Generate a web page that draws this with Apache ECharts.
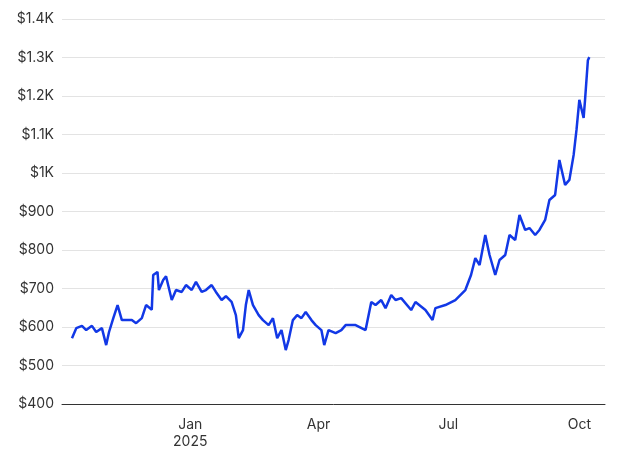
<!DOCTYPE html>
<html>
<head>
<meta charset="utf-8">
<script src="https://cdn.jsdelivr.net/npm/echarts@6/dist/echarts.min.js"></script>
</head>
<body style="margin:0">
<div id="main" style="width:640px;height:471px;"></div>
<script type="text/javascript">
    var dates = ['2024-10-10','2024-10-13','2024-10-17','2024-10-20','2024-10-24','2024-10-27','2024-10-31','2024-11-03','2024-11-05','2024-11-08',
        '2024-11-11','2024-11-14','2024-11-21','2024-11-24','2024-11-28','2024-12-01','2024-12-05','2024-12-06','2024-12-09','2024-12-10',
        '2024-12-13','2024-12-15','2024-12-19','2024-12-22','2024-12-26','2024-12-29','2025-01-02','2025-01-05','2025-01-09','2025-01-12',
        '2025-01-16','2025-01-19','2025-01-23','2025-01-26','2025-01-30','2025-02-02','2025-02-04','2025-02-07','2025-02-09','2025-02-11',
        '2025-02-14','2025-02-18','2025-02-21','2025-02-25','2025-02-28','2025-03-03','2025-03-06','2025-03-09','2025-03-11','2025-03-14',
        '2025-03-17','2025-03-20','2025-03-23','2025-03-27','2025-03-30','2025-04-03','2025-04-05','2025-04-08','2025-04-13','2025-04-17',
        '2025-04-20','2025-04-27','2025-05-04','2025-05-08','2025-05-11','2025-05-15','2025-05-18','2025-05-22','2025-05-25','2025-05-29',
        '2025-06-05','2025-06-08','2025-06-15','2025-06-20','2025-06-22','2025-06-29','2025-07-06','2025-07-13','2025-07-17','2025-07-20',
        '2025-07-23','2025-07-27','2025-07-30','2025-08-03','2025-08-06','2025-08-10','2025-08-13','2025-08-17','2025-08-20','2025-08-24',
        '2025-08-27','2025-08-31','2025-09-03','2025-09-07','2025-09-10','2025-09-14','2025-09-17','2025-09-21','2025-09-24','2025-09-27',
        '2025-09-29','2025-10-01','2025-10-04','2025-10-05','2025-10-07','2025-10-08'];
    var prices = [571,597,603,592,603,587,597,553,587,623,
        657,618,618,610,623,657,645,735,743,696,
        722,732,670,696,691,709,696,717,691,696,
        709,691,670,680,665,631,571,592,657,696,
        657,631,618,605,623,571,592,540,566,618,
        631,623,639,618,605,592,553,592,584,592,
        605,605,592,665,657,670,649,683,670,675,
        644,665,644,618,649,657,670,696,735,779,
        761,839,787,735,774,787,839,826,891,852,
        857,839,852,878,930,943,1034,969,982,1047,
        1112,1190,1143,1190,1293,1301];
    var tickDates = ['2025-01-01', '2025-04-01', '2025-07-01', '2025-10-01'];
    var months = ['Jan', 'Feb', 'Mar', 'Apr', 'May', 'Jun', 'Jul', 'Aug', 'Sep', 'Oct', 'Nov', 'Dec'];

    function ts(d) { return Date.UTC(+d.slice(0, 4), +d.slice(5, 7) - 1, +d.slice(8, 10)); }
    var data = dates.map(function (d, i) { return [ts(d), prices[i]]; });
    var ticks = tickDates.map(ts);

    var myChart = echarts.init(document.getElementById('main'));
    myChart.setOption({
        textStyle: {fontFamily: 'Inter'},
        grid: {left: 62, right: 35, top: 19, bottom: 67},
        xAxis: {
            type: 'value',
            min: ts('2024-10-03'),
            max: ts('2025-10-19'),
            axisLine: {lineStyle: {color: '#333'}},
            axisTick: {show: false},
            splitLine: {show: false},
            axisLabel: {
                customValues: ticks,
                color: '#333',
                fontSize: 14,
                margin: 12,
                lineHeight: 17,
                formatter: function (v) {
                    var d = new Date(v);
                    var m = months[d.getUTCMonth()];
                    return d.getUTCMonth() === 0 ? m + '\n' + d.getUTCFullYear() : m;
                }
            }
        },
        yAxis: {
            type: 'value',
            min: 400,
            max: 1400,
            interval: 100,
            axisLine: {show: false},
            axisTick: {show: false},
            splitLine: {lineStyle: {color: '#e3e3e3'}},
            axisLabel: {
                color: '#333',
                fontSize: 14,
                formatter: function (v) {
                    return v >= 1000 ? '$' + (v / 1000) + 'K' : '$' + v;
                }
            }
        },
        series: [{
            type: 'line',
            data: data,
            showSymbol: false,
            lineStyle: {color: '#1238e6', width: 2.5},
            itemStyle: {color: '#1238e6'}
        }]
    });
</script>
</body>
</html>
